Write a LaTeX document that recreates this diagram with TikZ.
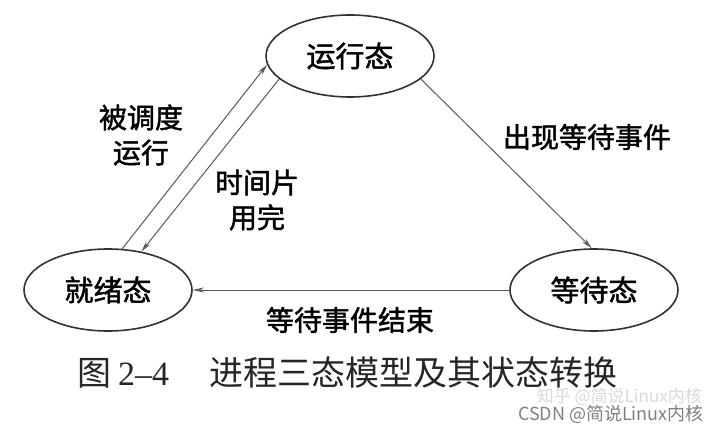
\documentclass[tikz,border=0pt]{standalone}
\usepackage{fontspec}
\usepackage{tikz}
\usetikzlibrary{shapes.geometric, arrows.meta, positioning}
\newfontfamily\cjk{Noto Sans CJK SC}
\newfontfamily\cjkbold[FakeBold=1.6]{Noto Sans CJK SC}
\newfontfamily\numfont{Liberation Serif}

\begin{document}
\begin{tikzpicture}[x=1pt,y=1pt,
  state/.style={ellipse,draw=black!80,line width=1.6pt,minimum width=168pt,minimum height=82pt,inner sep=0pt,font=\cjkbold\fontsize{29}{29}\selectfont},
  trans/.style={draw=black!65,line width=1pt,-{Stealth[length=11pt,width=5pt]}},
  lbl/.style={font=\cjkbold\fontsize{28}{35}\selectfont,align=center,inner sep=0pt}]
  \useasboundingbox (0,0) rectangle (720,429);
  \node[state] (run) at (350,373) {运行态};
  \node[state] (ready) at (108,139) {就绪态};
  \node[state] (wait) at (594,139) {等待态};
  \draw[trans] (ready.71) -- (run.186);
  \draw[trans] (run.198) -- (ready.49);
  \draw[trans] (run.-18) -- (wait.93);
  \draw[trans] (wait.west) -- (ready.east);
  \node[lbl] (sched) at (141,294) {被调度\\运行};
  \node[lbl] (slice) at (257,229) {时间片\\用完};
  \node[lbl] (block) at (587,292) {出现等待事件};
  \node[lbl] (wake) at (350,109) {等待事件结束};
  % caption and watermark
  \node[anchor=west,inner sep=0pt,text=black!85,font=\fontsize{34}{34}\selectfont] (cap) at (77,56)
    {{\cjk 图}\hspace{7pt}{\numfont 2–4}\hspace{40pt}{\cjk 进程三态模型及其状态转换}};
  \node[anchor=east,inner sep=0pt,text=black!15,font=\cjk\fontsize{17}{17}\selectfont] (zhihu) at (702,32) {知乎 @简说Linux内核};
  \node[anchor=east,inner sep=0pt,text=black!50,font=\cjk\fontsize{18}{18}\selectfont] (csdn) at (704,15) {CSDN @简说Linux内核};
\end{tikzpicture}
\end{document}
